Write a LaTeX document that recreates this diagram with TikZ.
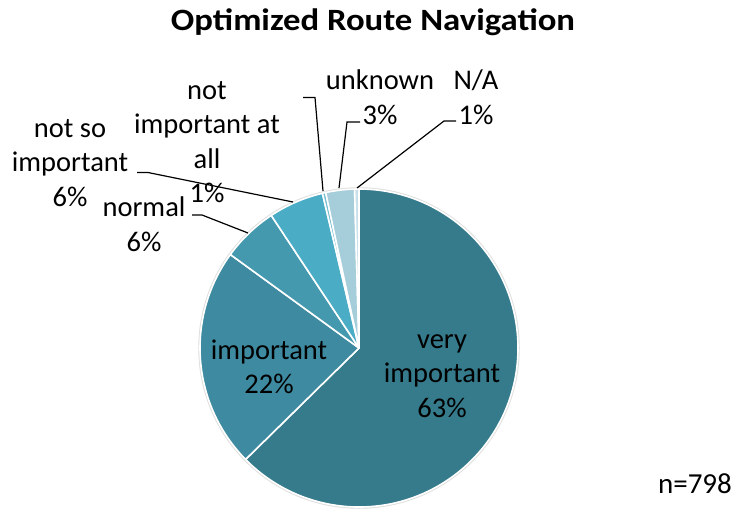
\documentclass[tikz,border=0pt]{standalone}
\usepackage{fontspec}
\setmainfont{Carlito}
\usetikzlibrary{positioning, calc}
\definecolor{veryimpteal}{RGB}{53,123,140}
\definecolor{impteal}{RGB}{62,139,161}
\definecolor{normalteal}{RGB}{68,153,175}
\definecolor{notsoteal}{RGB}{75,172,198}
\definecolor{notallteal}{RGB}{112,187,208}
\definecolor{unknownblue}{RGB}{166,205,218}
\definecolor{nablue}{RGB}{200,224,233}

\begin{document}
\begin{tikzpicture}[x=1pt, y=-1pt,
    lbl/.style={align=center, font=\fontsize{28.5}{34.5}\selectfont, inner sep=0pt},
    wedge/.style={draw=white, line width=1.6pt, line join=round},
    leader/.style={black, line width=1.2pt}]
    \useasboundingbox (0,0) rectangle (735,514);

    % Title
    \node[font=\bfseries\fontsize{31}{36}\selectfont, anchor=base] (title) at (373,30) {\scalebox{1.12}[1]{Optimized Route Navigation}};

    % Pie
    \coordinate (ctr) at (359,348);
    \draw[line width=1.5pt, color=gray!25] (ctr) circle (160);
    \filldraw[wedge, fill=veryimpteal] (ctr) -- ++(-90:159) arc[start angle=-90, end angle=135.5, radius=159] -- cycle;
    \filldraw[wedge, fill=impteal] (ctr) -- ++(135.5:159) arc[start angle=135.5, end angle=216, radius=159] -- cycle;
    \filldraw[wedge, fill=normalteal] (ctr) -- ++(216:159) arc[start angle=216, end angle=236.5, radius=159] -- cycle;
    \filldraw[wedge, fill=notsoteal] (ctr) -- ++(236.5:159) arc[start angle=236.5, end angle=256.7, radius=159] -- cycle;
    \filldraw[wedge, fill=notallteal] (ctr) -- ++(256.7:159) arc[start angle=256.7, end angle=257.9, radius=159] -- cycle;
    \filldraw[wedge, fill=unknownblue] (ctr) -- ++(257.9:159) arc[start angle=257.9, end angle=268.4, radius=159] -- cycle;
    \filldraw[wedge, fill=nablue] (ctr) -- ++(268.4:159) arc[start angle=268.4, end angle=270, radius=159] -- cycle;

    % Labels inside
    \node[lbl] (imp) at (269,367) {important\\22\%};
    \node[lbl] (veryimp) at (442,376) {very\\important\\63\%};

    % Labels outside
    \node[lbl] (normal) at (144,224) {normal\\6\%};
    \node[lbl] (notso) at (70,163) {not so\\important\\6\%};
    \node[lbl] (notall) at (207,142) {not\\important at\\all\\1\%};
    \node[lbl] (unknown) at (380,97) {unknown\\3\%};
    \node[lbl] (na) at (476,97) {N/A\\1\%};

    % Leader lines
    \coordinate (normal-s) at (192,215);
    \coordinate (normal-e) at (248,233);
    \coordinate (notso-s) at (137,172.5);
    \coordinate (notso-e) at (293,202);
    \coordinate (notall-s) at (303,97.5);
    \coordinate (notall-e) at (323,191);
    \coordinate (unknown-s) at (360,122);
    \coordinate (unknown-e) at (339,188);
    \coordinate (na-s) at (456,121);
    \coordinate (na-e) at (357,188);
    \draw[leader] (normal-s) -- ++(10,0) -- (normal-e);
    \draw[leader] (notso-s) -- ++(11,0) -- (notso-e);
    \draw[leader] (notall-s) -- ++(12,0) -- (notall-e);
    \draw[leader] (unknown-s) -- ++(-13,0) -- (unknown-e);
    \draw[leader] (na-s) -- ++(-12,0) -- (na-e);

    % Sample size
    \node[font=\fontsize{29}{34}\selectfont, anchor=base] (nsize) at (695,493) {n=798};
\end{tikzpicture}
\end{document}
